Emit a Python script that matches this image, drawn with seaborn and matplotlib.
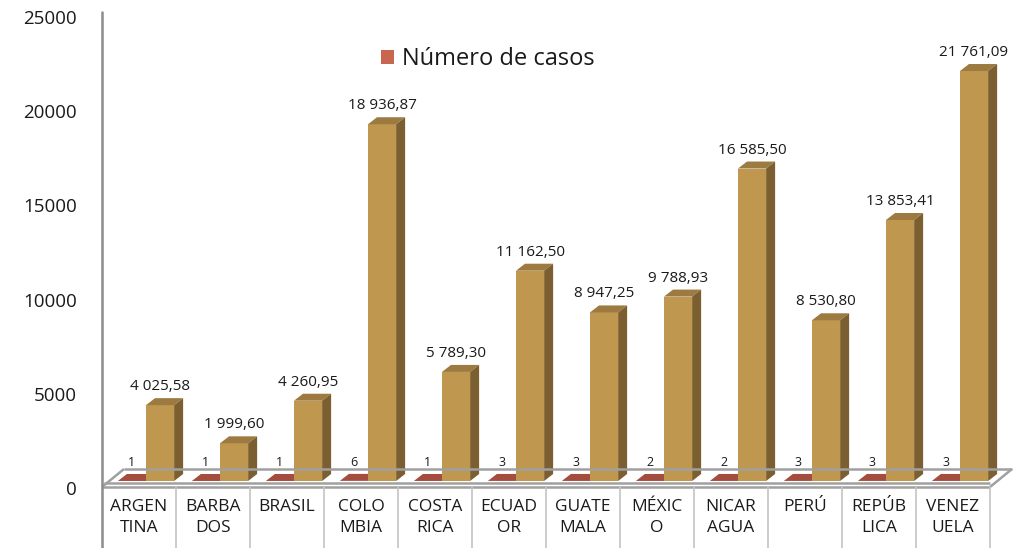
import numpy as np
import pandas as pd
import matplotlib
matplotlib.use("Agg")
import matplotlib.pyplot as plt
import seaborn as sns
from matplotlib.patches import Polygon, Patch
from matplotlib.lines import Line2D
from matplotlib.transforms import ScaledTranslation, IdentityTransform

# ---------------- data ----------------
categories = ["ARGEN\nTINA", "BARBA\nDOS", "BRASIL", "COLO\nMBIA", "COSTA\nRICA",
              "ECUAD\nOR", "GUATE\nMALA", "MÉXIC\nO", "NICAR\nAGUA", "PERÚ",
              "REPÚB\nLICA", "VENEZ\nUELA"]
casos = [1, 1, 1, 6, 1, 3, 3, 2, 2, 3, 3, 3]
valores = [4025.58, 1999.60, 4260.95, 18936.87, 5789.30, 11162.50,
           8947.25, 9788.93, 16585.50, 8530.80, 13853.41, 21761.09]
series_names = ["Número de casos", "Valor"]
y_ticks = [0, 5000, 10000, 15000, 20000, 25000]

# ---------------- style ----------------
W, H, DPI = 1013, 548, 100
sns.set_style("white")
plt.rcParams["font.family"] = ["Open Sans", "DejaVu Sans"]
TXT = "#1a1a1a"
RED_FRONT = "#C9664F"
RED_TOP = "#A44D3E"
GOLD_FRONT = "#BF974F"
GOLD_SIDE = "#7C5F31"
GOLD_TOP = "#9C7A40"
AX_GRAY = "#8c8c8c"
FLOOR_GRAY = "#a0a0a0"
TABLE_GRAY = "#c4c4c4"
DX, DY = 9, 7  # 3D depth in pixels

fig = plt.figure(figsize=(W / DPI, H / DPI), dpi=DPI)
fig.patch.set_facecolor("white")
ax = fig.add_axes([102 / W, (H - 481) / H, 888 / W, 471 / H])
ax.set_facecolor("none")

df = pd.DataFrame({
    "pais": categories * 2,
    "serie": [series_names[0]] * len(categories) + [series_names[1]] * len(categories),
    "valor": casos + valores,
})
sns.barplot(data=df, x="pais", y="valor", hue="serie",
            palette=[RED_FRONT, GOLD_FRONT], width=0.76, saturation=1,
            errorbar=None, legend=False, ax=ax, linewidth=0)

ax.set_xlim(-0.5, len(categories) - 0.5)
ax.set_ylim(0, 25000)
for s in ax.spines.values():
    s.set_visible(False)
ax.set_xlabel("")
ax.set_ylabel("")

# shift bars slightly to the right (3D depth centring)
shift = 7 / 74
for cont in ax.containers:
    for p in cont:
        p.set_x(p.get_x() + shift)

red_cont, gold_cont = ax.containers[0], ax.containers[1]
for p in red_cont:
    p.set_zorder(2)
for p in gold_cont:
    p.set_zorder(4)

ident = IdentityTransform()


def to_px(x, y):
    return ax.transData.transform((x, y))


def add_3d(p, top_color, side_color, z_top, z_side, side=True):
    x0, y0 = p.get_x(), p.get_y()
    w, h = p.get_width(), p.get_height()
    (px0, pyb) = to_px(x0, y0)
    (px1, pyt) = to_px(x0 + w, y0 + h)
    top = Polygon([(px0, pyt), (px1, pyt), (px1 + DX, pyt + DY), (px0 + DX, pyt + DY)],
                  closed=True, facecolor=top_color, edgecolor="none",
                  transform=ident, clip_on=False, zorder=z_top)
    ax.add_patch(top)
    if side:
        sd = Polygon([(px1, pyb), (px1, pyt), (px1 + DX, pyt + DY), (px1 + DX, pyb + DY)],
                     closed=True, facecolor=side_color, edgecolor="none",
                     transform=ident, clip_on=False, zorder=z_side)
        ax.add_patch(sd)


for p in red_cont:
    add_3d(p, RED_TOP, RED_TOP, 2, 2, side=False)
for p in gold_cont:
    add_3d(p, GOLD_TOP, GOLD_SIDE, 4, 4)


def fmt(v):
    s = f"{v:,.2f}"
    return s.replace(",", " ").replace(".", ",")


for p, v in zip(red_cont, casos):
    ax.annotate(str(v), xy=(p.get_x() + p.get_width() / 2, p.get_height()),
                xytext=(0, 15), textcoords="offset pixels", ha="center",
                va="baseline", fontsize=9, color=TXT, zorder=6)
for p, v in zip(gold_cont, valores):
    ax.annotate(fmt(v), xy=(p.get_x() + p.get_width() / 2, p.get_height()),
                xytext=(0, 15), textcoords="offset pixels", ha="center",
                va="baseline", fontsize=11, color=TXT, zorder=6)

# ticks
ax.set_yticks(y_ticks)
ax.set_yticklabels([str(t) for t in y_ticks], fontsize=13.5, color=TXT)
ax.set_xticks(range(len(categories)))
ax.set_xticklabels(categories, fontsize=12.5, color=TXT, linespacing=1.45)
ax.tick_params(axis="y", length=0, pad=18)
ax.tick_params(axis="x", length=0, pad=13)
off = ScaledTranslation(0, -7 / DPI, fig.dpi_scale_trans)
for lbl in ax.get_yticklabels():
    lbl.set_transform(lbl.get_transform() + off)

# ------------- floor, axis line and category table -------------
(axl, axb) = ax.transAxes.transform((0, 0))
(axr, axt) = ax.transAxes.transform((1, 1))
front = axb - 6   # front edge of the floor (pixels from bottom)
front2 = axb - 2
back = axb + 12
fdx = 22

floor_lines = [
    ([axl, axr], [front, front]),
    ([axl + 2, axr], [front2, front2]),
    ([axl + fdx, axr + fdx], [back, back]),
    ([axl, axl + fdx], [front, back]),
    ([axr, axr + fdx], [front, back]),
]
for xs, ys in floor_lines:
    fig.add_artist(Line2D(xs, ys, transform=ident, color=FLOOR_GRAY, lw=1.8,
                          solid_capstyle="butt", zorder=1))

# y axis line
fig.add_artist(Line2D([axl, axl], [0, axt - 2], transform=ident, color=AX_GRAY,
                      lw=1.8, zorder=5))

# category table vertical separators
for k in range(1, len(categories) + 1):
    xb, _ = ax.transData.transform((k - 0.5, 0))
    fig.add_artist(Line2D([xb, xb], [0, front], transform=ident,
                          color=TABLE_GRAY, lw=1.2, zorder=1))

# legend
handle = Patch(facecolor=RED_FRONT, edgecolor="none")
fig.legend(handles=[handle], labels=[series_names[0]], loc="center left",
           bbox_to_anchor=(381 / W, 1 - 59 / H), bbox_transform=fig.transFigure,
           frameon=False, fontsize=17, handlelength=0.55, handleheight=0.55,
           handletextpad=0.35, borderpad=0, borderaxespad=0, labelcolor=TXT)

fig.savefig("out.png", dpi=DPI)
